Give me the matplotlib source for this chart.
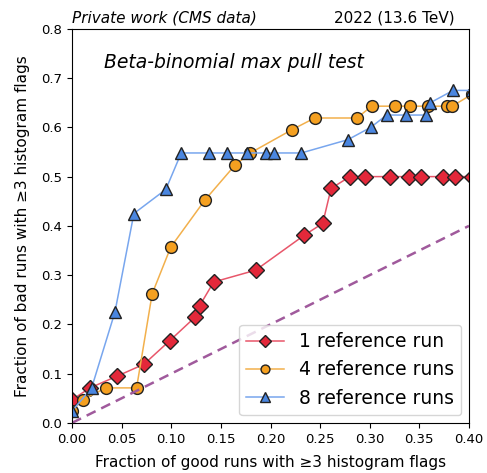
import matplotlib
matplotlib.use("Agg")
import matplotlib.pyplot as plt

# fraction of good runs (x) / bad runs (y) with >=3 histogram flags
x_1ref = [0.0, 0.018, 0.0455, 0.0724, 0.0985, 0.1236, 0.1286, 0.1427, 0.185,
          0.234, 0.2526, 0.261, 0.280, 0.295, 0.3207, 0.3397, 0.352, 0.374,
          0.3856, 0.403]
y_1ref = [0.047, 0.071, 0.095, 0.119, 0.167, 0.214, 0.238, 0.286, 0.310,
          0.381, 0.405, 0.476, 0.500, 0.500, 0.500, 0.500, 0.500, 0.500,
          0.500, 0.500]

x_4ref = [0.0, 0.0107, 0.034, 0.065, 0.0807, 0.0995, 0.1337, 0.1645, 0.1796,
          0.2214, 0.2445, 0.287, 0.302, 0.3256, 0.3407, 0.359, 0.3775, 0.383,
          0.403]
y_4ref = [0.024, 0.047, 0.071, 0.071, 0.262, 0.357, 0.452, 0.524, 0.548,
          0.595, 0.619, 0.619, 0.643, 0.643, 0.643, 0.643, 0.643, 0.643,
          0.667]

x_8ref = [0.0, 0.0197, 0.0432, 0.0623, 0.0945, 0.110, 0.1377, 0.1565, 0.176,
          0.1956, 0.2033, 0.231, 0.278, 0.301, 0.317, 0.337, 0.3565, 0.361,
          0.384, 0.403]
y_8ref = [0.024, 0.071, 0.225, 0.425, 0.474, 0.548, 0.548, 0.548, 0.548,
          0.548, 0.548, 0.548, 0.575, 0.600, 0.625, 0.625, 0.625, 0.650,
          0.675, 0.675]

diag = [0.0, 0.4]

fig = plt.figure(figsize=(4.87, 4.73), dpi=100)
ax = fig.add_axes([0.148, 0.106, 0.815, 0.833])

series = [
    (x_1ref, y_1ref, "1 reference run", "D", "#e3283a", "#e8566a", 8.5),
    (x_4ref, y_4ref, "4 reference runs", "o", "#f5a020", "#f2b04c", 8.5),
    (x_8ref, y_8ref, "8 reference runs", "^", "#4a86e0", "#78a6ee", 9),
]
for xs, ys, lab, mk, fc, lc, ms in series:
    ax.plot(xs, ys, color=lc, lw=1.1, marker=mk, markersize=ms,
            markerfacecolor=fc, markeredgecolor="#222222", markeredgewidth=1.0,
            label=lab)

ax.plot(diag, diag, ls="--", color="#a05a9c", lw=1.8, dashes=(4, 2.5))

ax.set_xlim(0, 0.4)
ax.set_ylim(0, 0.8)
ax.set_xticks([0.0, 0.05, 0.10, 0.15, 0.20, 0.25, 0.30, 0.35, 0.40])
ax.set_xticklabels(["0.00", "0.05", "0.10", "0.15", "0.20", "0.25", "0.30", "0.35", "0.40"])
ax.tick_params(labelsize=9.5)

ax.set_xlabel("Fraction of good runs with \u22653 histogram flags", fontsize=11, labelpad=7)
ax.set_ylabel("Fraction of bad runs with \u22653 histogram flags", fontsize=11, labelpad=8)

ax.text(0.0, 1.008, "Private work (CMS data)", transform=ax.transAxes,
        fontsize=11, style="italic", ha="left", va="bottom")
ax.text(0.965, 1.008, "2022 (13.6 TeV)", transform=ax.transAxes,
        fontsize=11, ha="right", va="bottom")
ax.text(0.08, 0.915, "Beta-binomial max pull test", transform=ax.transAxes,
        fontsize=13.5, style="italic", ha="left", va="center")

ax.legend(loc="lower right", fontsize=13.5, markerscale=0.75,
          handlelength=2.0, borderaxespad=0.4)

fig.savefig("out.png", dpi=100)
